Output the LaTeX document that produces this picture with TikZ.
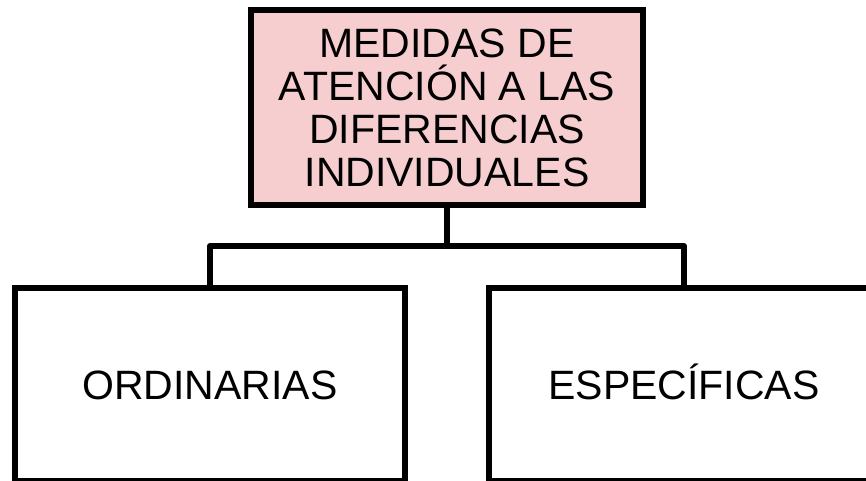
\documentclass[tikz,border=0pt]{standalone}
\usepackage{fontspec}
\setmainfont{Liberation Sans}
\usepackage{tikz}
\usetikzlibrary{positioning}
\definecolor{rosado}{RGB}{247,206,207}
\tikzset{
  caja/.style={
    draw=black,
    line width=6pt,
    align=center,
    inner sep=0pt,
    minimum width=390pt,
    minimum height=193pt,
    font=\fontsize{41}{43}\selectfont},
  medida/.style={caja, text height=29.5pt, text depth=0pt},
  rama/.style={line width=6pt, line join=round},
  }

\begin{document}
\begin{tikzpicture}[x=1pt,y=-1pt]
            \useasboundingbox (0,0) rectangle (866,480);
            \clip (0,0) rectangle (866,480);

            % Boxes
            \node[caja, fill=rosado, minimum width=391.5pt, minimum height=195pt] (medidas) at (447,107.5)
                {MEDIDAS DE\\ATENCIÓN A LAS\\DIFERENCIAS\\INDIVIDUALES};
            \node[medida] (ordinarias) at (210,384.5) {ORDINARIAS};
            \node[medida] (especificas) at (684,384.5) {ESPECÍFICAS};

            % Branches
            \coordinate (cruce) at (447,246);
            \draw[rama] (medidas.south) -- (cruce);
            \draw[rama] (cruce) -| (ordinarias.north);
            \draw[rama] (cruce) -| (especificas.north);
\end{tikzpicture}
\end{document}
